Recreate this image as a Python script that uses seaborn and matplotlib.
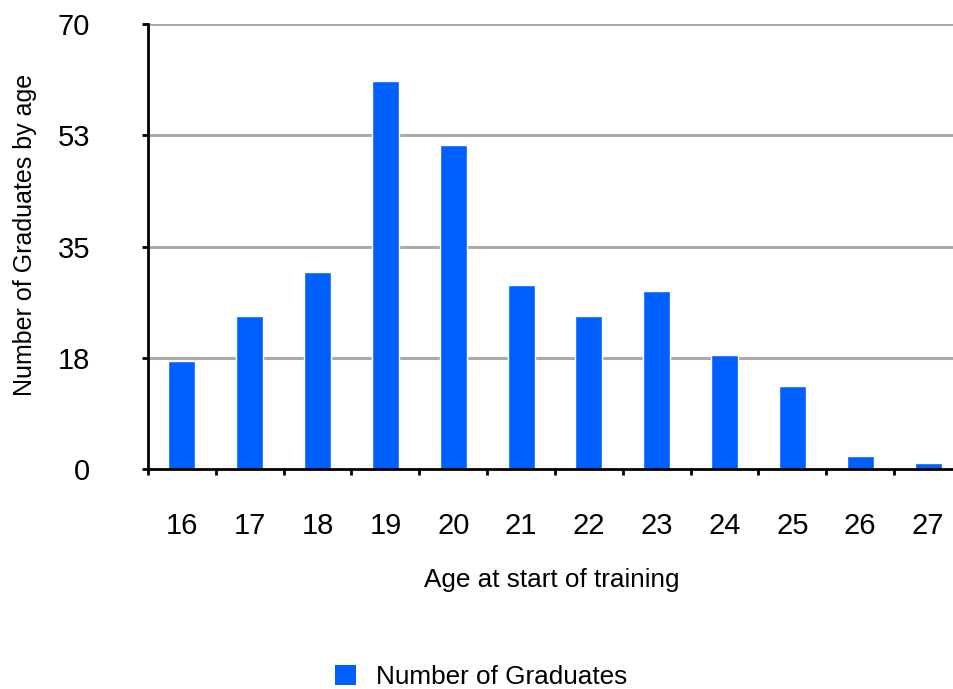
import numpy as np
import pandas as pd
import matplotlib
matplotlib.use("Agg")
import matplotlib.pyplot as plt
import seaborn as sns
from matplotlib.patches import Patch

ages = ["16", "17", "18", "19", "20", "21", "22", "23", "24", "25", "26", "27"]
graduates = [17, 24, 31, 61, 51, 29, 24, 28, 18, 13, 2, 1]
ytick_vals = [0, 17.5, 35, 52.5, 70]
ytick_labels = ["0", "18", "35", "53", "70"]

sns.set_theme(style="white", rc={
    "text.color": "black",
    "axes.labelcolor": "black",
    "xtick.color": "black",
    "ytick.color": "black",
})
plt.rcParams["font.family"] = ["Liberation Sans", "DejaVu Sans"]

df = pd.DataFrame({"age": ages, "graduates": graduates})

fig = plt.figure(figsize=(9.54, 6.89), dpi=100)
ax = fig.add_axes([148 / 954, 1 - 469 / 689, (962 - 148) / 954, (469 - 24) / 689])

bar_color = "#0060ff"
sns.barplot(data=df, x="age", y="graduates", color=bar_color, width=0.4,
            saturation=1, ax=ax, zorder=3)

ax.set_xlim(-0.5, len(ages) - 0.5)
ax.set_ylim(0, 70)

# gridlines
for v in ytick_vals[1:]:
    ax.axhline(v, color="#aaaaaa", linewidth=2.2, zorder=1)

ax.set_yticks(ytick_vals)
ax.set_yticklabels(ytick_labels, fontsize=21)
ax.tick_params(axis="y", length=4.5, width=2, pad=37, direction="out", left=True)

ax.set_xticks(range(len(ages)))
ax.set_xticklabels(ages, fontsize=21)
ax.tick_params(axis="x", which="major", length=0, pad=31)
ax.set_xticks(np.arange(-0.5, len(ages), 1), minor=True)
ax.tick_params(axis="x", which="minor", length=4.5, width=2, direction="out", bottom=True)

for s in ["top", "right"]:
    ax.spines[s].set_visible(False)
for s in ["left", "bottom"]:
    ax.spines[s].set_color("black")
    ax.spines[s].set_linewidth(2)
    ax.spines[s].set_zorder(4)

ax.set_xlabel("Age at start of training", fontsize=18.8)
ax.set_ylabel("Number of Graduates by age", fontsize=18)
ax.xaxis.set_label_coords(0.4965, -0.222)
ax.yaxis.set_label_coords(-0.136, 0.526)

handle = Patch(facecolor=bar_color, edgecolor="none")
fig.legend([handle], ["Number of Graduates"], loc="center",
           bbox_to_anchor=(0.504, 0.0174), frameon=False, fontsize=18.8,
           handlelength=0.8, handleheight=0.8, handletextpad=0.77,
           borderpad=0, borderaxespad=0)

fig.savefig("out.png", dpi=100)
